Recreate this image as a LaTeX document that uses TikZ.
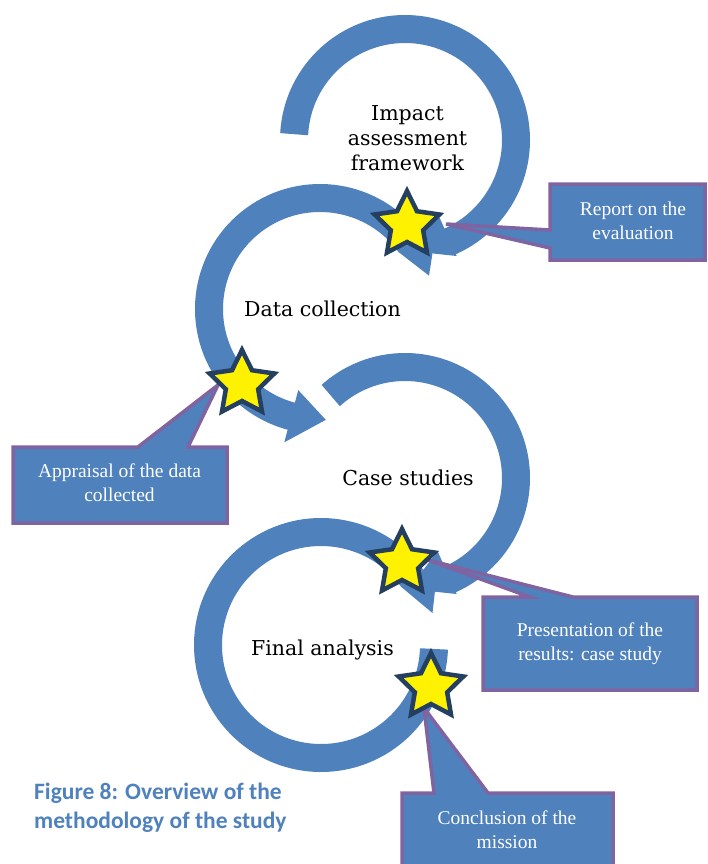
\documentclass[tikz,border=0pt]{standalone}
\usepackage{fontspec}
\newfontfamily\stagefont{DejaVu Serif}
\newfontfamily\notefont{Liberation Serif}
\newfontfamily\figfont{Carlito}
\usetikzlibrary{shapes.geometric}
\definecolor{cycleblue}{HTML}{4F81BD}
\definecolor{notepurple}{HTML}{8064A2}
\definecolor{staredge}{HTML}{243F60}

\begin{document}
\begin{tikzpicture}[x=1pt,y=-1pt,
	band/.style={cycleblue, line width=28pt},
	head/.style={fill=cycleblue},
	note/.style={fill=cycleblue, draw=notepurple, line width=3.5pt, line join=miter},
	notetext/.style={text=white, align=center, inner sep=0pt, font=\notefont\fontsize{19.5}{24}\selectfont},
	stage/.style={text=black, align=center, inner sep=0pt, font=\stagefont\fontsize{20.5}{24.7}\selectfont},
	milestone/.style={star, star points=5, star point ratio=2.0, minimum size=68pt, inner sep=0pt,
		fill=yellow, draw=staredge, line width=4.5pt, line join=miter}]
	\useasboundingbox (0,0) rectangle (707,864);
	\clip (0,0) rectangle (707,864);

	\coordinate (c1) at (405,140);
	\coordinate (c2) at (320,309);
	\coordinate (c3) at (405,478);
	\coordinate (c4) at (321,645);

	\begin{scope}[shift={(c1)}]
		\draw[band] (-177:111) arc[start angle=-177, end angle=67, radius=111];
		\fill[head] (66:80) -- (88:111) -- (66:127) -- cycle;
	\end{scope}
	\begin{scope}[shift={(c2)}]
		\fill[head] (-36:97) -- (-36:125) -- (-26:125) -- (-17:114) -- cycle;
		\draw[band] (-36:111) arc[start angle=-36, end angle=-256, radius=111];
		\fill[head] (-255:84) -- (-273:111) -- (-255:138) -- cycle;
	\end{scope}
	\begin{scope}[shift={(c3)}]
		\draw[band] (-132:111) arc[start angle=-132, end angle=67, radius=111];
		\fill[head] (66:80) -- (88:111) -- (66:127) -- cycle;
	\end{scope}
	\begin{scope}[shift={(c4)}]
		\fill[head] (-36:99) -- (-36:127) -- (-26:127) -- (-16:116) -- cycle;
		\draw[band] (-36:113) arc[start angle=-36, end angle=-358, radius=113];
	\end{scope}

	\node[stage] (impact) at (407.5,138) {Impact\\assessment\\framework};
	\node[stage, anchor=base] (data) at (322.5,316) {Data collection};
	\node[stage, anchor=base] (cases) at (408,485) {Case studies};
	\node[stage, anchor=base] (final) at (322.5,655) {Final analysis};

	\draw[note] (550,184) -- (705,184) -- (705,260) -- (550,260) -- (550,248) -- (446,224) -- (550,230) -- cycle;
	\draw[note] (13,447) -- (138,447) -- (218,385) -- (188,447) -- (227,447) -- (227,523) -- (13,523) -- cycle;
	\draw[note] (483,597) -- (530,597) -- (428,560) -- (573,597) -- (697,597) -- (697,690) -- (483,690) -- cycle;
	\draw[note] (402,793) -- (434,793) -- (424,708) -- (488,793) -- (613,793) -- (613,880) -- (402,880) -- cycle;

	\node[notetext] (report) at (633,221) {Report on the\\evaluation};
	\node[notetext] (appraisal) at (119.5,483) {Appraisal of the data\\collected};
	\node[notetext] (results) at (590,643.5) {Presentation of the\\results: case study};
	\node[notetext] (mission) at (507,830) {Conclusion of the\\mission};

	\node[milestone] (evalstar) at (407,225) {};
	\node[milestone] (datastar) at (242,384) {};
	\node[milestone] (casestar) at (402,563) {};
	\node[milestone] (finalstar) at (431,687) {};

	\node[anchor=west, align=left, inner sep=0pt, text=cycleblue,
		font=\figfont\bfseries\fontsize{23.5}{29}\selectfont] (caption) at (34,808)
		{Figure 8: Overview of the\\methodology of the study};
\end{tikzpicture}
\end{document}
